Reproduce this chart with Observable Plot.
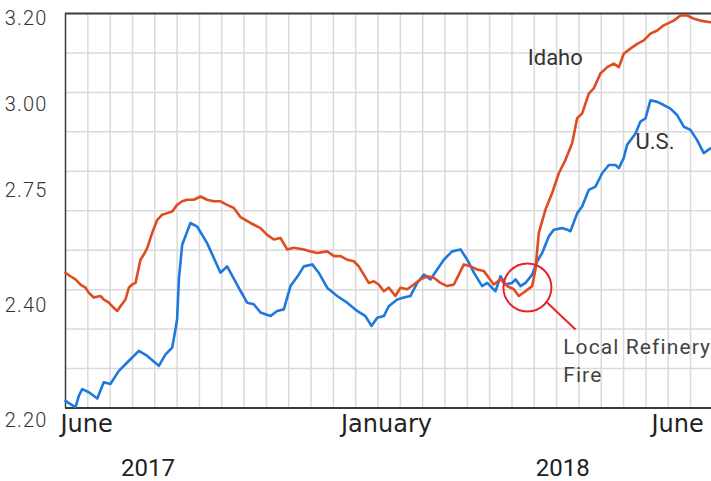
<!DOCTYPE html>
<html><head><meta charset="utf-8">
<script src="https://cdn.jsdelivr.net/npm/d3@7"></script>
<script src="https://cdn.jsdelivr.net/npm/@observablehq/plot@0.6"></script>
<style>
html,body{margin:0;padding:0;background:#fff;}
g[aria-description="anno"] text{letter-spacing:1.1px;}
g[aria-description="ytick"] text{letter-spacing:1.2px;}
</style></head><body><div id="chart"></div>
<script>
// Days since 2017-06-26 and average regular gas price ($/gal)
const idahoDays = [0,2.8,5.7,8.5,11.4,13.3,16.1,19.9,21.8,24.7,27.5,29.5,31.3,34.2,36.1,38.0,39.9,42.7,44.6,46.6,49.4,52.3,55.1,58.0,60.8,63.6,66.5,69.3,73.1,76.9,80.7,84.5,88.3,92.1,95.9,99.7,105.4,111.1,114.9,118.7,122.5,126.3,130.1,135.8,139.6,143.4,149.1,153.0,156.7,160.5,164.3,167.1,170.0,172.8,175.7,178.5,181.4,184.2,188.0,190.9,194.7,198.5,202.3,206.1,209.9,213.7,217.5,221.3,224.1,227.0,230.8,234.6,238.4,241.2,244.0,247.9,251.7,255.4,258.3,262.1,265.9,267.8,269.7,273.5,277.3,281.1,284.9,288.7,291.5,294.4,298.2,301.0,304.8,308.7,312.4,315.3,318.1,321.9,325.8,329.5,333.3,337.2,340.9,346.6,350.4,354.2,358.0,361.8,367.5];
const idahoPrices = [2.543,2.534,2.526,2.513,2.505,2.492,2.480,2.484,2.475,2.467,2.454,2.446,2.458,2.475,2.505,2.513,2.517,2.576,2.589,2.606,2.644,2.677,2.690,2.694,2.698,2.715,2.724,2.728,2.728,2.736,2.728,2.724,2.724,2.715,2.707,2.684,2.669,2.656,2.639,2.627,2.631,2.602,2.606,2.602,2.597,2.593,2.597,2.585,2.585,2.576,2.572,2.559,2.538,2.517,2.521,2.513,2.496,2.505,2.484,2.505,2.501,2.513,2.526,2.534,2.530,2.517,2.509,2.513,2.538,2.564,2.559,2.551,2.547,2.530,2.513,2.526,2.509,2.501,2.484,2.496,2.509,2.551,2.644,2.703,2.745,2.795,2.829,2.871,2.934,2.947,2.997,3.010,3.048,3.064,3.073,3.064,3.098,3.111,3.123,3.132,3.149,3.157,3.170,3.182,3.195,3.195,3.187,3.182,3.178];
const usDays = [0,2.8,5.7,7.6,9.5,13.3,18.1,21.8,25.6,30.4,34.2,38.0,41.8,46.6,53.2,57.0,60.8,62.7,63.6,64.6,66.5,71.2,75.0,80.7,88.3,92.1,99.7,103.5,107.3,111.1,116.8,120.6,124.4,128.2,132.9,135.8,140.6,144.3,149.1,154.8,160.5,166.2,170.9,174.4,177.6,181.4,184.2,189.0,192.8,196.6,200.4,204.2,208.0,211.8,215.6,220.3,225.1,228.9,232.7,237.4,240.3,245.0,247.9,250.7,254.5,256.4,259.3,262.1,265.9,268.8,271.6,275.4,278.2,283.0,285.9,287.7,291.6,294.4,298.2,302.0,305.8,309.6,313.4,315.3,318.1,320.0,324.8,327.6,330.5,333.3,337.2,340.9,344.7,348.6,352.3,356.1,359.9,363.7,367.5];
const usPrices = [2.218,2.210,2.202,2.231,2.248,2.240,2.224,2.265,2.261,2.294,2.311,2.328,2.345,2.332,2.307,2.336,2.353,2.400,2.425,2.526,2.614,2.669,2.660,2.618,2.543,2.559,2.497,2.467,2.463,2.442,2.433,2.446,2.450,2.509,2.538,2.559,2.564,2.543,2.505,2.484,2.467,2.446,2.433,2.408,2.429,2.433,2.458,2.475,2.480,2.484,2.517,2.538,2.526,2.551,2.576,2.597,2.602,2.576,2.543,2.509,2.517,2.496,2.534,2.513,2.517,2.526,2.509,2.517,2.538,2.572,2.593,2.635,2.652,2.656,2.652,2.648,2.694,2.711,2.753,2.761,2.795,2.816,2.816,2.808,2.834,2.867,2.896,2.926,2.934,2.980,2.976,2.968,2.959,2.942,2.913,2.905,2.879,2.846,2.858];

const xEndDay = 368.1;
const xGridStepDays = 12.72;
const yGridValues = [2.3, 2.4, 2.5, 2.6, 2.7, 2.8, 2.9, 3.0, 3.1];
const yTickLabels = ["3.20", "3.00", "2.75", "2.40", "2.20"];
const yTickAt = [3.186, 2.969, 2.750, 2.460, 2.168];
const monthLabels = ["June", "January", "June"];
const monthLabelAt = [-2.85, 182.9, 363.7];
const monthAnchors = ["start", "middle", "end"];
const yearLabels = ["2017", "2018"];
const yearLabelAt = [47.0, 283.3];
const seriesNames = ["Idaho", "U.S."];
const seriesLabelDay = [263.4, 324.8];
const seriesLabelPrice = [3.088, 2.874];
const calloutText = ["Local Refinery\nFire"];
const calloutCircle = [{day: 263.2, price: 2.5055}];
const calloutLink = [{d1: 273.8, p1: 2.470, d2: 290.6, p2: 2.399}];
const calloutTextPos = [{day: 283.6, price: 2.388}];

const idaho = idahoDays.map((d, i) => ({day: d, price: idahoPrices[i]}));
const us = usDays.map((d, i) => ({day: d, price: usPrices[i]}));
const xGrid = d3.range(0, xEndDay, xGridStepDays).slice(1);
const yTicks = yTickLabels.map((t, i) => ({t, v: yTickAt[i]}));
const months = monthLabels.map((t, i) => ({t, d: monthLabelAt[i], a: monthAnchors[i]}));
const years = yearLabels.map((t, i) => ({t, d: yearLabelAt[i]}));
const seriesLabels = seriesNames.map((t, i) => ({t, d: seriesLabelDay[i], p: seriesLabelPrice[i]}));

const monthMark = (anchor) => Plot.text(months.filter(m => m.a === anchor), {
  x: "d", text: "t", textAnchor: anchor, frameAnchor: "bottom", lineAnchor: "middle", dy: 16.6,
  fontSize: 24, fontFamily: "DejaVu Sans", fill: "#222"
});

const chart = Plot.plot({
  width: 711, height: 481,
  marginLeft: 65, marginRight: 0, marginTop: 13, marginBottom: 73.5,
  x: {domain: [0, xEndDay], axis: null},
  y: {domain: [2.2, 3.2], axis: null},
  style: {background: "#fff", overflow: "visible"},
  marks: [
    Plot.ruleX(xGrid, {x: d => d, stroke: "#dadada", strokeWidth: 1.5}),
    Plot.ruleY(yGridValues, {y: d => d, stroke: "#dadada", strokeWidth: 1.5}),
    Plot.ruleX([0], {x: d => d, stroke: "#3a3a3a", strokeWidth: 1.5}),
    Plot.ruleY([2.2, 3.2], {y: d => d, stroke: "#3a3a3a", strokeWidth: 2}),
    Plot.line(us, {x: "day", y: "price", stroke: "#1f78de", strokeWidth: 2.6}),
    Plot.line(idaho, {x: "day", y: "price", stroke: "#e04b1f", strokeWidth: 2.6}),
    Plot.dot(calloutCircle, {x: "day", y: "price", r: 24, stroke: "#e8222b", strokeWidth: 2, fill: "none"}),
    Plot.link(calloutLink, {x1: "d1", y1: "p1", x2: "d2", y2: "p2", stroke: "#e8222b", strokeWidth: 2}),
    Plot.text(calloutTextPos, {x: "day", y: "price", text: () => calloutText[0], textAnchor: "start", lineAnchor: "top", lineHeight: 1.35, fontSize: 21, fontFamily: "Roboto", fill: "#444", ariaDescription: "anno"}),
    Plot.text(seriesLabels, {x: "d", y: "p", text: "t", textAnchor: "start", fontSize: 22, fontFamily: "Roboto", fill: "#333"}),
    Plot.text(yTicks, {y: "v", text: "t", frameAnchor: "left", textAnchor: "end", dx: -18, fontSize: 20, fontWeight: 300, fontFamily: "Roboto", fill: "#333", ariaDescription: "ytick"}),
    monthMark("start"),
    monthMark("middle"),
    monthMark("end"),
    Plot.text(years, {x: "d", text: "t", frameAnchor: "bottom", lineAnchor: "middle", dy: 60.6, fontSize: 24, fontFamily: "Roboto", fill: "#222"})
  ]
});
document.getElementById("chart").appendChild(chart);
</script></body></html>
